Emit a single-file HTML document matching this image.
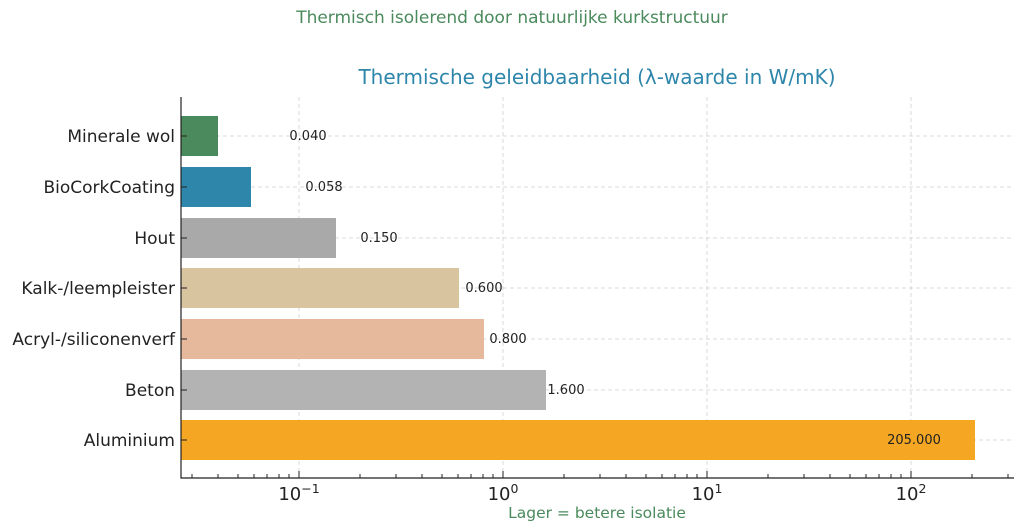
<!DOCTYPE html>
<html><head><meta charset="utf-8"><style>body{margin:0;background:#fff}svg{display:block}</style></head><body>
<svg width="1024" height="532" xmlns="http://www.w3.org/2000/svg" font-family="DejaVu Sans, Liberation Sans, sans-serif">
<text x="512" y="23" text-anchor="middle" font-size="17" fill="#4a8a5c">Thermisch isolerend door natuurlijke kurkstructuur</text>
<text x="597" y="84" text-anchor="middle" font-size="20" fill="#2e86ab">Thermische geleidbaarheid (λ-waarde in W/mK)</text>
<g stroke="#d0d0d0" stroke-dasharray="4,3" stroke-width="0.8">
<line x1="299" y1="97" x2="299" y2="478"/><line x1="503" y1="97" x2="503" y2="478"/><line x1="707" y1="97" x2="707" y2="478"/><line x1="911" y1="97" x2="911" y2="478"/>
<line x1="181" y1="136" x2="1014" y2="136"/><line x1="181" y1="187" x2="1014" y2="187"/><line x1="181" y1="238" x2="1014" y2="238"/><line x1="181" y1="288" x2="1014" y2="288"/><line x1="181" y1="339" x2="1014" y2="339"/><line x1="181" y1="390" x2="1014" y2="390"/><line x1="181" y1="440" x2="1014" y2="440"/>
</g>
<rect x="181" y="116" width="37" height="40" fill="#4a8a5c"/>
<rect x="181" y="167" width="70" height="40" fill="#2e86ab"/>
<rect x="181" y="218" width="155" height="40" fill="#a9a9a9"/>
<rect x="181" y="268" width="278" height="40" fill="#d9c4a0"/>
<rect x="181" y="319" width="303" height="40" fill="#e6b89c"/>
<rect x="181" y="370" width="365" height="40" fill="#b3b3b3"/>
<rect x="181" y="420" width="794" height="40" fill="#f5a623"/>
<g font-size="13" fill="#222" text-anchor="middle">
<text x="308" y="140">0.040</text><text x="324" y="191">0.058</text><text x="379" y="242">0.150</text><text x="484" y="292">0.600</text><text x="508" y="343">0.800</text><text x="566" y="394">1.600</text><text x="914" y="444">205.000</text>
</g>
<g font-size="17" fill="#222" text-anchor="end">
<text x="175" y="142">Minerale wol</text><text x="175" y="193">BioCorkCoating</text><text x="175" y="244">Hout</text><text x="175" y="294">Kalk-/leempleister</text><text x="175" y="345">Acryl-/siliconenverf</text><text x="175" y="396">Beton</text><text x="175" y="446">Aluminium</text>
</g>
<g stroke="#222" stroke-width="1">
<line x1="181" y1="136" x2="187" y2="136"/><line x1="181" y1="187" x2="187" y2="187"/><line x1="181" y1="238" x2="187" y2="238"/><line x1="181" y1="288" x2="187" y2="288"/><line x1="181" y1="339" x2="187" y2="339"/><line x1="181" y1="390" x2="187" y2="390"/><line x1="181" y1="440" x2="187" y2="440"/>
<line x1="299" y1="478" x2="299" y2="471"/><line x1="503" y1="478" x2="503" y2="471"/><line x1="707" y1="478" x2="707" y2="471"/><line x1="911" y1="478" x2="911" y2="471"/>
<line x1="192" y1="478" x2="192" y2="474"/><line x1="218" y1="478" x2="218" y2="474"/><line x1="238" y1="478" x2="238" y2="474"/><line x1="254" y1="478" x2="254" y2="474"/><line x1="267" y1="478" x2="267" y2="474"/><line x1="279" y1="478" x2="279" y2="474"/><line x1="289" y1="478" x2="289" y2="474"/>
<line x1="360" y1="478" x2="360" y2="474"/><line x1="396" y1="478" x2="396" y2="474"/><line x1="422" y1="478" x2="422" y2="474"/><line x1="442" y1="478" x2="442" y2="474"/><line x1="458" y1="478" x2="458" y2="474"/><line x1="471" y1="478" x2="471" y2="474"/><line x1="483" y1="478" x2="483" y2="474"/><line x1="493" y1="478" x2="493" y2="474"/>
<line x1="564" y1="478" x2="564" y2="474"/><line x1="600" y1="478" x2="600" y2="474"/><line x1="626" y1="478" x2="626" y2="474"/><line x1="646" y1="478" x2="646" y2="474"/><line x1="662" y1="478" x2="662" y2="474"/><line x1="675" y1="478" x2="675" y2="474"/><line x1="687" y1="478" x2="687" y2="474"/><line x1="697" y1="478" x2="697" y2="474"/>
<line x1="768" y1="478" x2="768" y2="474"/><line x1="804" y1="478" x2="804" y2="474"/><line x1="830" y1="478" x2="830" y2="474"/><line x1="850" y1="478" x2="850" y2="474"/><line x1="866" y1="478" x2="866" y2="474"/><line x1="879" y1="478" x2="879" y2="474"/><line x1="891" y1="478" x2="891" y2="474"/><line x1="901" y1="478" x2="901" y2="474"/>
<line x1="972" y1="478" x2="972" y2="474"/><line x1="1008" y1="478" x2="1008" y2="474"/>
</g>
<line x1="181" y1="97" x2="181" y2="478.5" stroke="#222" stroke-width="1.2"/>
<line x1="180.5" y1="478" x2="1014" y2="478" stroke="#222" stroke-width="1.2"/>
<g font-size="18" fill="#222" text-anchor="middle">
<text x="299" y="500">10<tspan font-size="12.5" dy="-7">−1</tspan></text>
<text x="503" y="500">10<tspan font-size="12.5" dy="-7">0</tspan></text>
<text x="707" y="500">10<tspan font-size="12.5" dy="-7">1</tspan></text>
<text x="911" y="500">10<tspan font-size="12.5" dy="-7">2</tspan></text>
</g>
<text x="597" y="518" text-anchor="middle" font-size="15.5" fill="#4a8a5c">Lager = betere isolatie</text>
</svg>
</body></html>
